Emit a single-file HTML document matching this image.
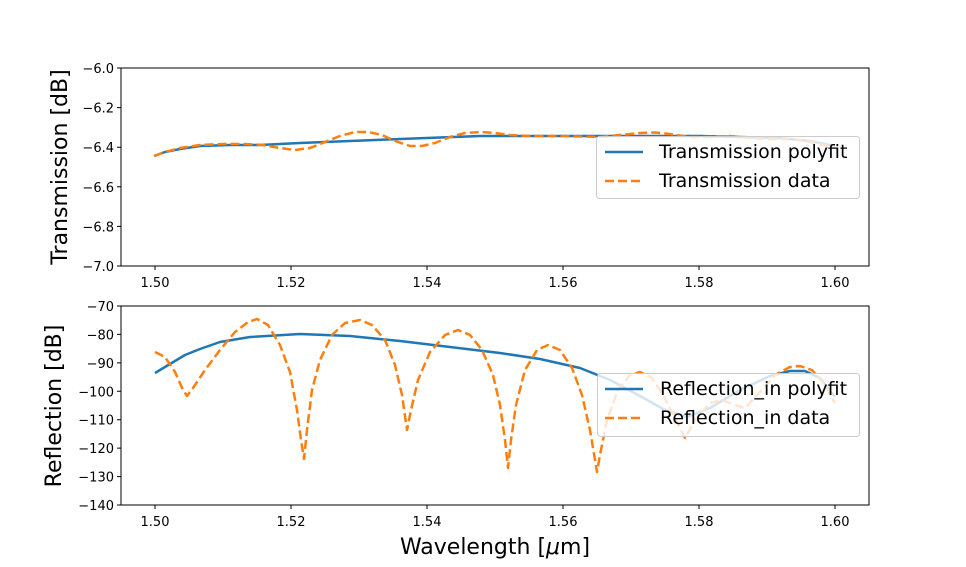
<!DOCTYPE html>
<html><head><style>
body{margin:0;background:#fff;}
svg{display:block;font-family:"DejaVu Sans","Liberation Sans",sans-serif;}
</style></head><body>
<svg width="966" height="567" viewBox="0 0 966 567">
<defs>
<clipPath id="c1"><rect x="121" y="68" width="748" height="198"/></clipPath>
<clipPath id="c2"><rect x="121" y="306" width="748" height="199"/></clipPath>
</defs>
<g clip-path="url(#c1)" fill="none" stroke-width="2.5" stroke-linejoin="round">
<polyline stroke="#1f77b4" points="154,156 165,152 180,149 200,146 230,145 260,145 300,143 350,141 400,139 440,137.5 480,136 540,136 600,136 660,136 700,136 740,137 780,138 810,141 835,146"/>
<polyline stroke="#ff7f0e" stroke-dasharray="9,4" points="154,156 165,152 180,148 200,145 222,144 245,144 262,145 280,148 295,150 310,148 325,142 340,136 355,132 368,132 382,135 395,141 410,146 422,146 435,143 450,137 465,133 480,132 495,133 510,135 530,136 560,136 600,137 620,135 640,133 655,132.5 670,134 690,137 710,137 730,136 750,138 770,139 790,139 810,142 835,148"/>
</g>
<g clip-path="url(#c2)" fill="none" stroke-width="2.5" stroke-linejoin="round">
<polyline stroke="#1f77b4" points="155,373 170,364 185,355 200,349 220,342 250,337 300,334 350,336 400,341 450,347 500,353 540,359 580,368 610,380 640,396 665,410 687,417 710,408 740,390 770,376 790,371 805,371 820,378 835,397"/>
<polyline stroke="#ff7f0e" stroke-dasharray="9,4" points="155,352 165,357 175,372 183,390 187,396 193,388 205,370 220,350 235,332 248,322 257,319 268,325 280,345 290,372 297,410 301,440 304,459 307,430 312,390 320,360 332,335 345,323 360,320 372,325 385,340 395,365 402,395 407,430 411,410 418,380 430,352 445,335 458,330 470,335 482,350 493,375 500,405 505,440 508,468 511,440 516,405 525,370 537,350 548,345 560,350 572,368 582,395 590,430 595,460 597,472 600,455 607,420 618,390 630,375 640,372 652,378 663,395 675,418 685,438 695,420 710,403 722,400 735,405 745,408 760,392 775,375 790,367 800,366 812,370 825,385 835,403"/>
</g>
<rect x="121" y="68" width="748" height="198" fill="none" stroke="#000" stroke-width="1"/>
<rect x="121" y="306" width="748" height="199" fill="none" stroke="#000" stroke-width="1"/>
<g stroke="#000" stroke-width="1">
<path d="M155,266v4M291,266v4M427,266v4M563,266v4M699,266v4M835,266v4"/>
<path d="M155,505v4M291,505v4M427,505v4M563,505v4M699,505v4M835,505v4"/>
<path d="M121,68h-4M121,107.6h-4M121,147.2h-4M121,186.8h-4M121,226.4h-4M121,266h-4"/>
<path d="M121,306h-4M121,334.4h-4M121,362.9h-4M121,391.3h-4M121,419.7h-4M121,448.1h-4M121,476.6h-4M121,505h-4"/>
</g>
<g font-size="13" fill="#000" text-anchor="middle">
<text x="155" y="287">1.50</text><text x="291" y="287">1.52</text><text x="427" y="287">1.54</text><text x="563" y="287">1.56</text><text x="699" y="287">1.58</text><text x="835" y="287">1.60</text>
<text x="155" y="526">1.50</text><text x="291" y="526">1.52</text><text x="427" y="526">1.54</text><text x="563" y="526">1.56</text><text x="699" y="526">1.58</text><text x="835" y="526">1.60</text>
</g>
<g font-size="13" fill="#000" text-anchor="end">
<text x="114" y="73">−6.0</text><text x="114" y="112.6">−6.2</text><text x="114" y="152.2">−6.4</text><text x="114" y="191.8">−6.6</text><text x="114" y="231.4">−6.8</text><text x="114" y="271">−7.0</text>
<text x="114" y="311">−70</text><text x="114" y="339.4">−80</text><text x="114" y="367.9">−90</text><text x="114" y="396.3">−100</text><text x="114" y="424.7">−110</text><text x="114" y="453.1">−120</text><text x="114" y="481.6">−130</text><text x="114" y="510">−140</text>
</g>
<text x="67" y="167" font-size="22" text-anchor="middle" transform="rotate(-90 67 167)">Transmission [dB]</text>
<text x="61" y="406" font-size="22" text-anchor="middle" transform="rotate(-90 61 406)">Reflection [dB]</text>
<text x="495" y="554" font-size="22" text-anchor="middle">Wavelength [<tspan font-style="italic">μ</tspan>m]</text>
<rect x="596.5" y="136.5" width="263" height="62" rx="3" fill="rgba(255,255,255,0.8)" stroke="#ccc"/>
<path d="M605,152h38" stroke="#1f77b4" stroke-width="2.5"/>
<path d="M605,181h38" stroke="#ff7f0e" stroke-width="2.5" stroke-dasharray="9,4"/>
<text x="659" y="158" font-size="19">Transmission polyfit</text>
<text x="659" y="187" font-size="19">Transmission data</text>
<rect x="597.5" y="373.5" width="262" height="63" rx="3" fill="rgba(255,255,255,0.8)" stroke="#ccc"/>
<path d="M605,389h38" stroke="#1f77b4" stroke-width="2.5"/>
<path d="M605,418h38" stroke="#ff7f0e" stroke-width="2.5" stroke-dasharray="9,4"/>
<text x="660" y="395" font-size="19">Reflection_in polyfit</text>
<text x="660" y="424" font-size="19">Reflection_in data</text>
</svg>
</body></html>
